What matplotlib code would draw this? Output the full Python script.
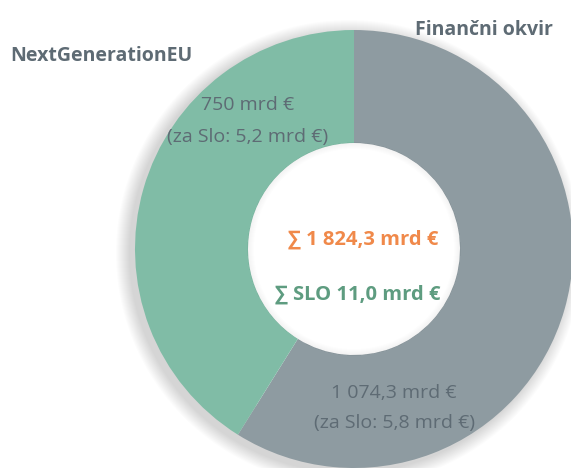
import matplotlib
matplotlib.use("Agg")
import matplotlib.pyplot as plt
from matplotlib.patches import Wedge

# data
labels = ["Finančni okvir", "NextGenerationEU"]
values = [1074.3, 750.0]
slo_values = [5.8, 5.2]
colors = ["#8E9BA1", "#80BCA6"]

W, H = 571, 468
fig = plt.figure(figsize=(W / 100, H / 100), dpi=100)
ax = fig.add_axes([0, 0, 1, 1])

fonts = ["Open Sans", "DejaVu Sans"]
txt_col = "#5E6B74"

cx, cy = 354, H - 249
R, r = 219, 106

# soft shadow round the outside of the ring (ring-shaped so the hole stays white)
for i in range(14):
    rad = R + 14 - i
    ax.add_patch(Wedge((cx - 5, cy - 4), rad, 0, 360, width=rad - (R - 40),
                       color="black", alpha=0.01, lw=0))

ax.pie(values, colors=colors, startangle=90, counterclock=False, center=(cx, cy),
       radius=R, wedgeprops=dict(width=R - r, linewidth=0), frame=True)
ax.set_xlim(0, W)
ax.set_ylim(0, H)
ax.set_aspect("equal")
ax.axis("off")

# faint inner shadow at the edge of the hole
for i in range(6):
    ax.add_patch(Wedge((cx, cy), r + 0.5, 0, 360, width=6.5 - i,
                       color="black", alpha=0.008, lw=0))

def fmt(v):
    s = f"{v:,.1f}".replace(",", " ").replace(".", ",")
    return s[:-2] if s.endswith(",0") and v >= 100 else s

# slice names
ax.text(553, H - 30, labels[0], ha="right", va="center", fontsize=14,
        fontweight="bold", color=txt_col, family=fonts)
ax.text(10, H - 56, labels[1], ha="left", va="center", fontsize=14,
        fontweight="bold", color=txt_col, family=fonts)

# slice values
ax.text(248, H - 105, f"{fmt(values[1])} mrd €", ha="center", va="center",
        fontsize=14, color=txt_col, family=fonts)
ax.text(248, H - 137, f"(za Slo: {fmt(slo_values[1])} mrd €)", ha="center", va="center",
        fontsize=14, color=txt_col, family=fonts)
ax.text(394, H - 393, f"{fmt(values[0])} mrd €", ha="center", va="center",
        fontsize=14, color=txt_col, family=fonts)
ax.text(394, H - 423, f"(za Slo: {fmt(slo_values[0])} mrd €)", ha="center", va="center",
        fontsize=14, color=txt_col, family=fonts)

# totals
ax.text(363, H - 240, f"∑ {fmt(sum(values))} mrd €", ha="center", va="center",
        fontsize=14.5, fontweight="bold", color="#F0894A", family=fonts)
ax.text(358, H - 295, f"∑ SLO {fmt(sum(slo_values))} mrd €", ha="center", va="center",
        fontsize=14.5, fontweight="bold", color="#5E9C80", family=fonts)

fig.savefig("out.png", dpi=100)
